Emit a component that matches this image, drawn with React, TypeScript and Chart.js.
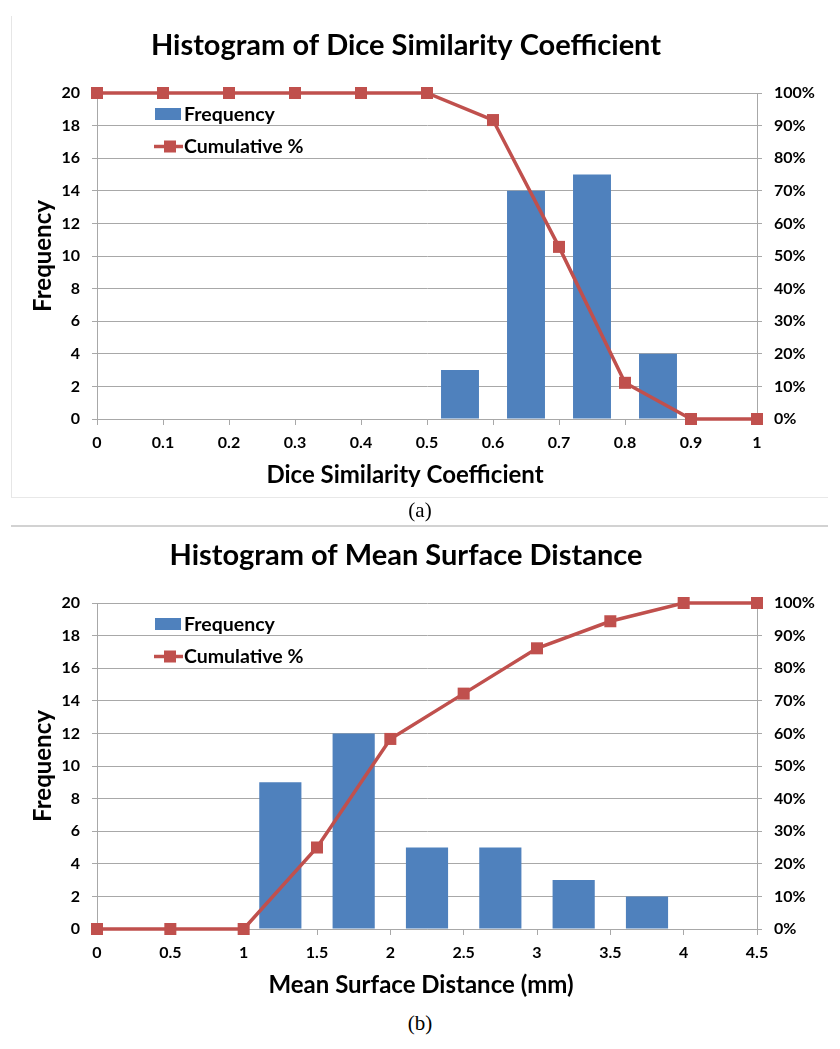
import React, { useEffect, useRef } from 'react';
import { Chart, registerables } from 'chart.js';

Chart.register(...registerables);

// ---------- data ----------
const DICE_BIN_CENTERS = [0.05, 0.15, 0.25, 0.35, 0.45, 0.55, 0.65, 0.75, 0.85, 0.95];
const DICE_FREQUENCY = [0, 0, 0, 0, 0, 3, 14, 15, 4, 0];
const DICE_CUM_X = [0, 0.1, 0.2, 0.3, 0.4, 0.5, 0.6, 0.7, 0.8, 0.9, 1];
const DICE_CUM_PCT = [100, 100, 100, 100, 100, 100, 91.7, 52.8, 11.1, 0, 0];
const DICE_X_TICKS = ['0', '0.1', '0.2', '0.3', '0.4', '0.5', '0.6', '0.7', '0.8', '0.9', '1'];

const MSD_BIN_CENTERS = [0.25, 0.75, 1.25, 1.75, 2.25, 2.75, 3.25, 3.75, 4.25];
const MSD_FREQUENCY = [0, 0, 9, 12, 5, 5, 3, 2, 0];
const MSD_CUM_X = [0, 0.5, 1, 1.5, 2, 2.5, 3, 3.5, 4, 4.5];
const MSD_CUM_PCT = [0, 0, 0, 25, 58.3, 72.2, 86.1, 94.4, 100, 100];
const MSD_X_TICKS = ['0', '0.5', '1', '1.5', '2', '2.5', '3', '3.5', '4', '4.5'];

const FREQ_TICKS = ['0', '2', '4', '6', '8', '10', '12', '14', '16', '18', '20'];
const PCT_TICKS = ['0%', '10%', '20%', '30%', '40%', '50%', '60%', '70%', '80%', '90%', '100%'];

const SERIES_NAMES = ['Frequency', 'Cumulative %'];

// ---------- styles ----------
const BLUE = '#4F81BD';
const RED = '#C0504D';
const GRID = '#a8a8a8';
const FONT = 'Lato';

const decorPlugin = {
  id: 'decor',
  afterDraw(chart: any, _args: any, opts: any) {
    const ctx = chart.ctx as CanvasRenderingContext2D;
    const ca = chart.chartArea;
    ctx.save();
    ctx.fillStyle = '#000';
    ctx.textAlign = 'center';
    ctx.textBaseline = 'alphabetic';
    ctx.font = `bold 29px ${FONT}`;
    ctx.fillText(opts.title, opts.titleX, opts.titleY);
    ctx.font = `bold 24px ${FONT}`;
    ctx.fillText(opts.xTitle, opts.xTitleX, opts.xTitleY);
    ctx.save();
    ctx.translate(51, (ca.top + ca.bottom) / 2);
    ctx.rotate(-Math.PI / 2);
    ctx.fillText('Frequency', 0, 0);
    ctx.restore();

    // legend
    const lx = ca.left;
    const ly = ca.top;
    ctx.fillStyle = BLUE;
    ctx.fillRect(lx + 58, ly + 15, 26, 12);
    ctx.strokeStyle = RED;
    ctx.lineWidth = 3.5;
    ctx.beginPath();
    ctx.moveTo(lx + 57, ly + 53.5);
    ctx.lineTo(lx + 86, ly + 53.5);
    ctx.stroke();
    ctx.fillStyle = RED;
    ctx.fillRect(lx + 67, ly + 47.5, 12, 12);
    ctx.fillStyle = '#000';
    ctx.textAlign = 'left';
    ctx.font = `bold 19.5px ${FONT}`;
    ctx.fillText(SERIES_NAMES[0], lx + 87, ly + 27.5);
    ctx.fillText(SERIES_NAMES[1], lx + 87, ly + 60);
    ctx.restore();
  },
};

interface ChartProps {
  binCenters: number[];
  freq: number[];
  cumX: number[];
  cumPct: number[];
  xTicks: string[];
  xMax: number;
  xStep: number;
  title: string;
  xTitle: string;
  titleX: number;
  titleY: number;
  xTitleX: number;
  xTitleY: number;
  plotTop: number;
  height: number;
  top: number;
}

function HistChart(p: ChartProps) {
  const ref = useRef<HTMLCanvasElement | null>(null);
  useEffect(() => {
    if (!ref.current) return;
    const tickFont = { family: FONT, size: 16, weight: 'bold' as const };
    const chart = new Chart(ref.current, {
      type: 'bar',
      data: {
        datasets: [
          {
            type: 'line',
            label: SERIES_NAMES[1],
            data: p.cumX.map((x, i) => ({ x, y: p.cumPct[i] })),
            xAxisID: 'x',
            yAxisID: 'y1',
            borderColor: RED,
            backgroundColor: RED,
            borderWidth: 3.5,
            pointStyle: 'rect',
            pointRadius: 8.5,
            pointBorderWidth: 0,
            pointBackgroundColor: RED,
            tension: 0,
            clip: false as any,
            order: 0,
          } as any,
          {
            type: 'bar',
            label: SERIES_NAMES[0],
            data: p.binCenters.map((x, i) => ({ x, y: p.freq[i] })),
            xAxisID: 'x',
            yAxisID: 'y',
            backgroundColor: BLUE,
            borderWidth: 0,
            barPercentage: 0.575,
            categoryPercentage: 1,
            order: 1,
          } as any,
        ],
      },
      options: {
        responsive: false,
        maintainAspectRatio: false,
        animation: false,
        devicePixelRatio: 1,
        layout: { padding: { top: p.plotTop, left: 0, right: 0, bottom: 0 }, autoPadding: false },
        plugins: {
          legend: { display: false },
          tooltip: { enabled: false },
          title: { display: false },
          decor: {
            title: p.title,
            xTitle: p.xTitle,
            titleX: p.titleX,
            titleY: p.titleY,
            xTitleX: p.xTitleX,
            xTitleY: p.xTitleY,
          },
        } as any,
        scales: {
          x: {
            type: 'linear',
            min: 0,
            max: p.xMax,
            offset: false,
            ticks: {
              stepSize: p.xStep,
              autoSkip: false,
              maxRotation: 0,
              padding: 8,
              color: '#000',
              font: tickFont,
              callback: (_v: any, i: number) => p.xTicks[i] ?? '',
            },
            grid: { drawOnChartArea: false, drawTicks: true, tickLength: 6, color: GRID, offset: false },
            border: { display: true, color: GRID, width: 1 },
            afterFit: (s: any) => {
              s.height = 81;
            },
          },
          y: {
            type: 'linear',
            position: 'left',
            min: 0,
            max: 20,
            ticks: {
              stepSize: 2,
              padding: 12,
              color: '#000',
              font: tickFont,
              callback: (_v: any, i: number) => FREQ_TICKS[i] ?? '',
            },
            grid: { color: GRID, tickLength: 5 },
            border: { display: true, color: GRID, width: 1 },
            afterFit: (s: any) => {
              s.width = 97;
            },
          },
          y1: {
            type: 'linear',
            position: 'right',
            min: 0,
            max: 100,
            ticks: {
              stepSize: 10,
              padding: 12,
              color: '#000',
              font: tickFont,
              callback: (_v: any, i: number) => PCT_TICKS[i] ?? '',
            },
            grid: { drawOnChartArea: false, tickLength: 5, color: GRID },
            border: { display: true, color: GRID, width: 1 },
            afterFit: (s: any) => {
              s.width = 83;
            },
          },
        } as any,
      },
      plugins: [decorPlugin],
    });
    return () => chart.destroy();
  }, []);
  return (
    <canvas
      ref={ref}
      width={840}
      height={p.height}
      style={{ position: 'absolute', left: 0, top: p.top, width: 840, height: p.height }}
    />
  );
}

export default function App() {
  return (
    <div style={{ position: 'absolute', left: 0, top: 0, width: 840, height: 1049, background: '#fff', overflow: 'hidden' }}>
      <div style={{ position: 'absolute', left: 11, top: 16, width: 1, height: 481, background: '#e6e6e6' }} />
      <div style={{ position: 'absolute', left: 11, top: 497, width: 817, height: 1, background: '#e8e8e8' }} />
      <div style={{ position: 'absolute', left: 11, top: 525, width: 817, height: 2, background: '#d2d2d2' }} />
      <HistChart
        binCenters={DICE_BIN_CENTERS}
        freq={DICE_FREQUENCY}
        cumX={DICE_CUM_X}
        cumPct={DICE_CUM_PCT}
        xTicks={DICE_X_TICKS}
        xMax={1}
        xStep={0.1}
        title="Histogram of Dice Similarity Coefficient"
        xTitle="Dice Similarity Coefficient"
        titleX={406}
        titleY={55}
        xTitleX={405}
        xTitleY={483}
        plotTop={93}
        height={500}
        top={0}
      />
      <HistChart
        binCenters={MSD_BIN_CENTERS}
        freq={MSD_FREQUENCY}
        cumX={MSD_CUM_X}
        cumPct={MSD_CUM_PCT}
        xTicks={MSD_X_TICKS}
        xMax={4.5}
        xStep={0.5}
        title="Histogram of Mean Surface Distance"
        xTitle="Mean Surface Distance (mm)"
        titleX={406}
        titleY={35}
        xTitleX={421}
        xTitleY={463}
        plotTop={73}
        height={480}
        top={530}
      />
      <div style={{ position: 'absolute', left: 370, top: 498, width: 100, height: 24, lineHeight: '24px', textAlign: 'center', fontFamily: '"Liberation Serif", "Times New Roman", serif', fontSize: 21, color: '#000' }}>(a)</div>
      <div style={{ position: 'absolute', left: 370, top: 1011, width: 100, height: 24, lineHeight: '24px', textAlign: 'center', fontFamily: '"Liberation Serif", "Times New Roman", serif', fontSize: 21, color: '#000' }}>(b)</div>
    </div>
  );
}
